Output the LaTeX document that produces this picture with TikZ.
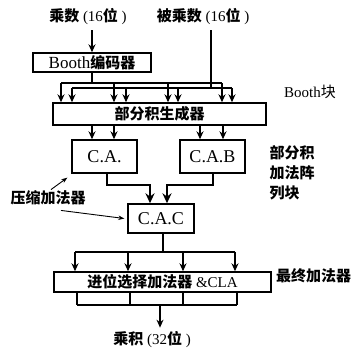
\documentclass[tikz,border=0pt]{standalone}
\usepackage{fontspec}
\setmainfont{Liberation Serif}
\newfontfamily\zh{Noto Sans CJK SC}
\usetikzlibrary{arrows.meta}
\tikzstyle{block} = [rectangle, draw=black, line width=1.4pt, inner sep=0pt, text centered, font=\fontsize{15}{17}\selectfont]
\tikzstyle{adder} = [block, minimum width=65pt, minimum height=33pt, font=\fontsize{18}{20}\selectfont]
\tikzstyle{lbl} = [inner sep=1pt, font=\fontsize{15}{18}\selectfont]
\tikzstyle{wire} = [line width=1.6pt]
\tikzstyle{arrow} = [line width=1.6pt,-{Stealth[length=8pt,width=7pt]}]
\tikzstyle{bigarrow} = [line width=2.4pt,-{Stealth[length=10pt,width=9pt]}]
\tikzstyle{pointer} = [line width=0.9pt,-{Stealth[length=6pt,width=4.5pt]}]

\begin{document}
\begin{tikzpicture}[x=1pt, y=-1pt]
\useasboundingbox (0,0) rectangle (351,349);

% inputs
\node (mulr) [lbl] at (88,17) {{\zh\bfseries 乘数} (16{\zh\bfseries 位} )};
\node (mulc) [lbl] at (203,17) {{\zh\bfseries 被乘数} (16{\zh\bfseries 位} )};

% Booth block
\node (booth) [block, minimum width=118pt, minimum height=19pt, font=\fontsize{17}{19}\selectfont] at (92,62.5) {Booth{\fontsize{15}{17}\selectfont\zh\bfseries 编码器}};
\node (ppg) [block, minimum width=213pt, minimum height=22pt] at (159.5,114) {\zh\bfseries 部分积生成器};
\node (boothlbl) [lbl] at (310,92) {Booth{\zh 块}};

% adder array
\node (ca) [adder] at (104.5,156.5) {C.A.};
\node (cab) [adder] at (212.5,156.5) {C.A.B};
\node (cac) [adder, minimum width=66pt, minimum height=29pt] at (161,218.5) {C.A.C};
\node (arrlbl) [lbl, align=left, font=\fontsize{15}{20}\selectfont] at (292,173) {\zh\bfseries 部分积\\\zh\bfseries 加法阵\\\zh\bfseries 列块};
\node (compr) [lbl] at (48,198) {\zh\bfseries 压缩加法器};

% final adder
\node (cla) [block, minimum width=217pt, minimum height=20pt] at (162.5,282) {{\zh\bfseries 进位选择加法器} \&CLA};
\node (finlbl) [lbl, anchor=west] at (275,276) {\zh\bfseries 最终加法器};
\node (prod) [lbl] at (152,340) {{\zh\bfseries 乘积} (32{\zh\bfseries 位} )};

\coordinate (bus1) at (92,83);
\coordinate (bus2) at (211,88);
\coordinate (bus4) at (160,305);

\draw [arrow, shorten <=4pt] (booth.north |- mulr.south) -- (booth.north);
\draw [wire] (booth.south) -- (bus1);
\draw [wire] (61,0 |- bus1) -- (222,0 |- bus1);
\foreach \x in {61,114,168,222}
  \draw [arrow] (\x,0 |- bus1) -- (\x,0 |- ppg.north);
\draw [wire, shorten <=4pt] (bus2 |- mulc.south) -- (bus2);
\draw [wire] (72,0 |- bus2) -- (232,0 |- bus2);
\foreach \x in {72,126,178,232}
  \draw [arrow] (\x,0 |- bus2) -- (\x,0 |- ppg.north);

\foreach \x in {92,114}
  \draw [arrow] (\x,0 |- ppg.south) -- (\x,0 |- ca.north);
\foreach \x in {200,223}
  \draw [arrow] (\x,0 |- ppg.south) -- (\x,0 |- cab.north);
\draw [bigarrow] ([xshift=2.5pt]ca.south) -- ++(0,11) -| ([xshift=-11pt]cac.north);
\draw [bigarrow] ([xshift=0.5pt]cab.south) -- ++(0,11) -| ([xshift=6pt]cac.north);

\draw [pointer] ([xshift=3pt]compr.north) -- ([xshift=-4pt,yshift=-4pt]ca.south west);
\draw [pointer] ([shift={(13,4)}]compr.south) -- ([xshift=-3pt]cac.west);

\draw [wire] ([xshift=2pt]cac.south) -- ++(0,18) coordinate (bus3);
\draw [wire] (75,0 |- bus3) -- (235,0 |- bus3);
\foreach \x in {75,128,183,235}
  \draw [arrow] (\x,0 |- bus3) -- (\x,0 |- cla.north);

\foreach \x in {77,130,183,237}
  \draw [wire] (\x,0 |- cla.south) -- (\x,0 |- bus4);
\draw [wire] (77,0 |- bus4) -- (237,0 |- bus4);
\draw [arrow, shorten >=3pt] (bus4) -- (bus4 |- prod.north);

\end{tikzpicture}
\end{document}
